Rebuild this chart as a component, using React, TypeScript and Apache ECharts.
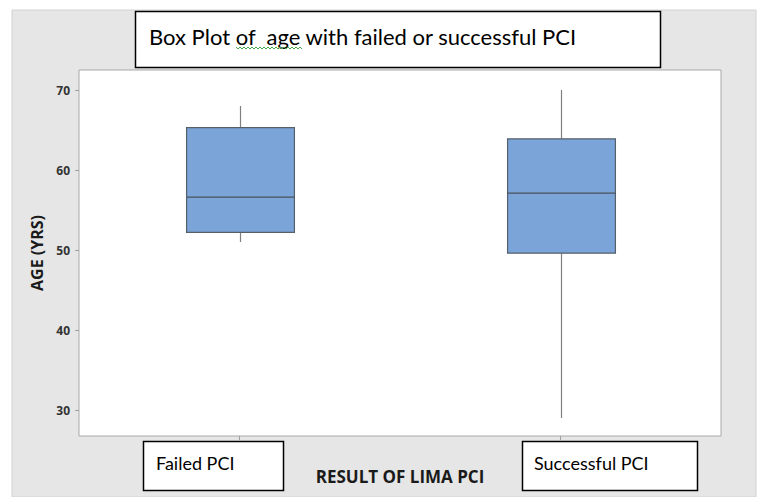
import React, { useEffect, useRef } from "react";
import * as echarts from "echarts";

const categories = ["Failed PCI", "Successful PCI"];
const minVals = [51.0, 29.0];
const q1Vals = [52.2, 49.6];
const medianVals = [56.6, 57.1];
const q3Vals = [65.3, 63.9];
const maxVals = [68.0, 70.0];
const yTickValues = [30, 40, 50, 60, 70];
const titleText = "Box Plot of  age with failed or successful PCI";
const xAxisTitle = "RESULT OF LIMA PCI";
const yAxisTitle = "AGE (YRS)";

const CAL = "Lato, 'Open Sans', sans-serif";
const SEG = "'Open Sans', 'DejaVu Sans', sans-serif";

export default function App() {
  const ref = useRef<HTMLDivElement>(null);
  useEffect(() => {
    if (!ref.current) return;
    const chart = echarts.init(ref.current, null, { renderer: "svg" });
    const data = categories.map((c, i) => [i, minVals[i], q1Vals[i], medianVals[i], q3Vals[i], maxVals[i]]);
    const wave: number[][] = [];
    for (let x = 236, k = 0; x <= 302; x += 2, k++) wave.push([x, k % 2 === 0 ? 47 : 49]);
    chart.setOption({
      animation: false,
      backgroundColor: "#ffffff",
      graphic: [
        { type: "rect", z: -10, shape: { x: 12, y: 10, width: 744, height: 487 }, style: { fill: "#e6e6e6", stroke: "#d2d2d2", lineWidth: 1 } },
        { type: "rect", z: 10, shape: { x: 135.5, y: 11.5, width: 525, height: 56 }, style: { fill: "#ffffff", stroke: "#000000", lineWidth: 1.5 } },
        { type: "text", z: 11, x: 149, y: 36, style: { text: titleText, font: `22px ${CAL}`, fill: "#000000", textVerticalAlign: "middle" } },
        { type: "polyline", z: 12, shape: { points: wave }, style: { stroke: "#4aa84a", lineWidth: 1, fill: null } },
        { type: "rect", z: 10, shape: { x: 143.5, y: 441.5, width: 140, height: 49 }, style: { fill: "#ffffff", stroke: "#000000", lineWidth: 1.5 } },
        { type: "text", z: 11, x: 156, y: 463, style: { text: categories[0], font: `18px ${CAL}`, fill: "#000000", textVerticalAlign: "middle" } },
        { type: "rect", z: 10, shape: { x: 522.5, y: 441.5, width: 175, height: 49 }, style: { fill: "#ffffff", stroke: "#000000", lineWidth: 1.5 } },
        { type: "text", z: 11, x: 534, y: 463, style: { text: categories[1], font: `18px ${CAL}`, fill: "#000000", textVerticalAlign: "middle" } },
        { type: "text", z: 11, x: 400, y: 476, style: { text: xAxisTitle, font: `bold 17px ${SEG}`, fill: "#1a1a1a", textAlign: "center", textVerticalAlign: "middle" } },
      ],
      grid: { left: 79, top: 70, width: 642, height: 366, show: true, backgroundColor: "#ffffff", borderColor: "#a8a8a8", borderWidth: 1 },
      xAxis: {
        type: "category",
        data: categories,
        axisLine: { show: false },
        axisTick: { show: true, alignWithLabel: true, length: 4, lineStyle: { color: "#a0a0a0" } },
        axisLabel: { show: false },
        splitLine: { show: false },
      },
      yAxis: {
        type: "value",
        min: 26.75,
        max: 72.5,
        name: yAxisTitle,
        nameLocation: "middle",
        nameGap: 34,
        nameTextStyle: { fontFamily: SEG, fontWeight: "bold", fontSize: 16, color: "#1a1a1a" },
        axisLine: { show: false },
        axisTick: { show: true, length: 4, customValues: yTickValues, lineStyle: { color: "#a0a0a0" } },
        axisLabel: { margin: 9, customValues: yTickValues, fontFamily: SEG, fontWeight: "bold", fontSize: 12, color: "#333333" },
        splitLine: { show: false },
      },
      series: [
        {
          type: "custom",
          data,
          renderItem: (params: any, api: any) => {
            const idx = api.value(0);
            const vMin = api.value(1), vQ1 = api.value(2), vMed = api.value(3), vQ3 = api.value(4), vMax = api.value(5);
            const pMin = api.coord([idx, vMin]);
            const pQ1 = api.coord([idx, vQ1]);
            const pMed = api.coord([idx, vMed]);
            const pQ3 = api.coord([idx, vQ3]);
            const pMax = api.coord([idx, vMax]);
            const bw = api.size([1, 0])[0] * 0.336;
            const cx = Math.round(pMed[0]) + 0.5;
            const left = cx - bw / 2;
            const whisker = { stroke: "#808080", lineWidth: 1.2 };
            return {
              type: "group",
              children: [
                { type: "line", shape: { x1: cx, y1: pMax[1], x2: cx, y2: pQ3[1] }, style: whisker },
                { type: "line", shape: { x1: cx, y1: pQ1[1], x2: cx, y2: pMin[1] }, style: whisker },
                { type: "rect", shape: { x: left, y: pQ3[1], width: bw, height: pQ1[1] - pQ3[1] }, style: { fill: "#7ba5d9", stroke: "#56606a", lineWidth: 1.2 } },
                { type: "line", shape: { x1: left, y1: pMed[1], x2: left + bw, y2: pMed[1] }, style: { stroke: "#4a525a", lineWidth: 1.2 } },
              ],
            };
          },
        },
      ],
    });
    return () => chart.dispose();
  }, []);
  return <div ref={ref} style={{ position: "fixed", left: 0, top: 0, width: 759, height: 497 }} />;
}
